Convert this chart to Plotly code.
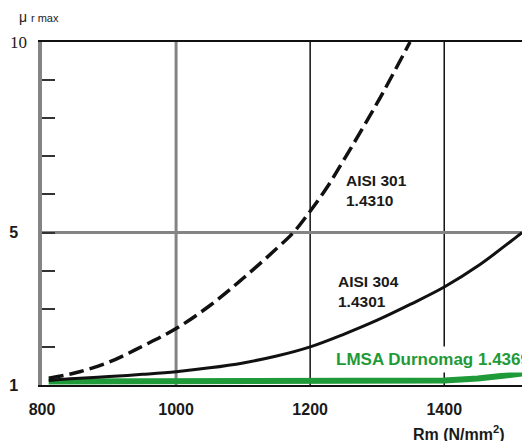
import plotly.graph_objects as go

# ---- data ----
x_301 = [810, 850, 900, 950, 1000, 1050, 1100, 1150, 1175, 1200, 1225, 1250, 1300, 1349]
y_301 = [1.18, 1.32, 1.6, 2.02, 2.48, 3.08, 3.8, 4.58, 5.0, 5.56, 6.18, 6.9, 8.4, 10.0]

x_304 = [810, 850, 900, 950, 1000, 1050, 1100, 1150, 1200, 1250, 1300, 1350, 1400, 1450, 1516]
y_304 = [1.12, 1.17, 1.22, 1.28, 1.35, 1.45, 1.58, 1.76, 2.0, 2.33, 2.7, 3.12, 3.57, 4.12, 5.0]

x_lmsa = [810, 900, 1000, 1100, 1200, 1300, 1400, 1450, 1500, 1516]
y_lmsa = [1.09, 1.09, 1.1, 1.1, 1.1, 1.11, 1.12, 1.17, 1.27, 1.3]

x_ticks = [800, 1000, 1200, 1400]
x_ticklabels = ["800", "1000", "1200", "1400"]
y_ticks = [1, 2, 3, 4, 5, 6, 7, 8, 9, 10]
y_ticklabels = ["<b>1&nbsp;&nbsp;</b>", " ", " ", " ", "<b>5&nbsp;&nbsp;</b>", " ", " ", " ", " ",
                "<span style='font-family:Liberation Serif;font-weight:normal;font-size:17px'>10</span>"]

grid_x = [1000, 1200, 1400]
grid_y = [5]

GRAY = "#848484"
GREEN = "#1f9a38"
FONT = "Liberation Sans"

W, H = 522, 441
ML, MR, MT, MB = 42, 0, 42, 56
PW, PH = W - ML - MR, H - MT - MB

fig = go.Figure()
fig.add_trace(go.Scatter(x=x_lmsa, y=y_lmsa, mode="lines",
                         line=dict(color=GREEN, width=6), hoverinfo="skip"))
fig.add_trace(go.Scatter(x=x_304, y=y_304, mode="lines", line_shape="spline",
                         line=dict(color="#111111", width=3), hoverinfo="skip"))
fig.add_trace(go.Scatter(x=x_301, y=y_301, mode="lines", line_shape="spline",
                         line=dict(color="#111111", width=3.5, dash="15px,6px"),
                         hoverinfo="skip"))

shapes = []
for gx in grid_x:
    gray = gx == 1000
    shapes.append(dict(type="line", xref="x", yref="paper", x0=gx, x1=gx, y0=0, y1=1,
                       line=dict(color=GRAY if gray else "#111111", width=3 if gray else 1.5),
                       layer="below"))
for gy in grid_y:
    shapes.append(dict(type="line", xref="paper", yref="y", x0=0, x1=1, y0=gy, y1=gy,
                       line=dict(color=GRAY, width=3), layer="below"))

lab_font = dict(family=FONT, size=15.5, color="#1a1a1a")
annotations = [
    dict(x=1250, y=6.1, xref="x", yref="y", text="<b>AISI 301<br>1.4310</b>",
         showarrow=False, xanchor="left", yanchor="middle", align="left", font=lab_font),
    dict(x=1238, y=3.45, xref="x", yref="y", text="<b>AISI 304<br>1.4301</b>",
         showarrow=False, xanchor="left", yanchor="middle", align="left", font=lab_font),
    dict(x=1233, y=1.66, xref="x", yref="y", text="<b>LMSA Durnomag 1.4369</b>",
         showarrow=False, xanchor="left", yanchor="middle", align="left",
         bgcolor="white", borderpad=3,
         font=dict(family=FONT, size=17, color=GREEN)),
    dict(x=(17 - ML) / PW, y=1 + (MT - 17) / PH, xref="paper", yref="paper",
         text="μ <span style='font-size:11px'>r max</span>",
         showarrow=False, xanchor="left", yanchor="middle",
         font=dict(family=FONT, size=14, color="#222222")),
    dict(x=(507 - ML) / PW, y=-(433 - (H - MB)) / PH, xref="paper", yref="paper",
         text="<b>Rm (N/mm<sup>2</sup>)</b>",
         showarrow=False, xanchor="right", yanchor="middle",
         font=dict(family=FONT, size=16, color="#1a1a1a")),
]

fig.update_layout(
    width=W, height=H,
    margin=dict(l=ML, r=MR, t=MT, b=MB, pad=0),
    paper_bgcolor="white", plot_bgcolor="white",
    showlegend=False,
    shapes=shapes, annotations=annotations,
    xaxis=dict(range=[800, 1516], tickvals=x_ticks, ticktext=x_ticklabels,
               showgrid=False, zeroline=False, ticks="",
               showline=True, linecolor="#111111", linewidth=2, mirror=True,
               tickfont=dict(family=FONT, size=16, color="#1a1a1a", weight="bold"),
               ticklabelstandoff=9, fixedrange=True),
    yaxis=dict(range=[1, 10], tickvals=y_ticks, ticktext=y_ticklabels,
               showgrid=False, zeroline=False,
               ticks="inside", ticklen=13, tickwidth=2, tickcolor="#333333",
               showline=True, linecolor=GRAY, linewidth=3.5,
               tickfont=dict(family=FONT, size=16, color="#1a1a1a"),
               ticklabelstandoff=8, fixedrange=True),
)

fig.write_html(
    "out.html",
    config={"displayModeBar": False},
    post_script="document.body.style.margin='0';document.body.style.overflow='hidden';",
)
